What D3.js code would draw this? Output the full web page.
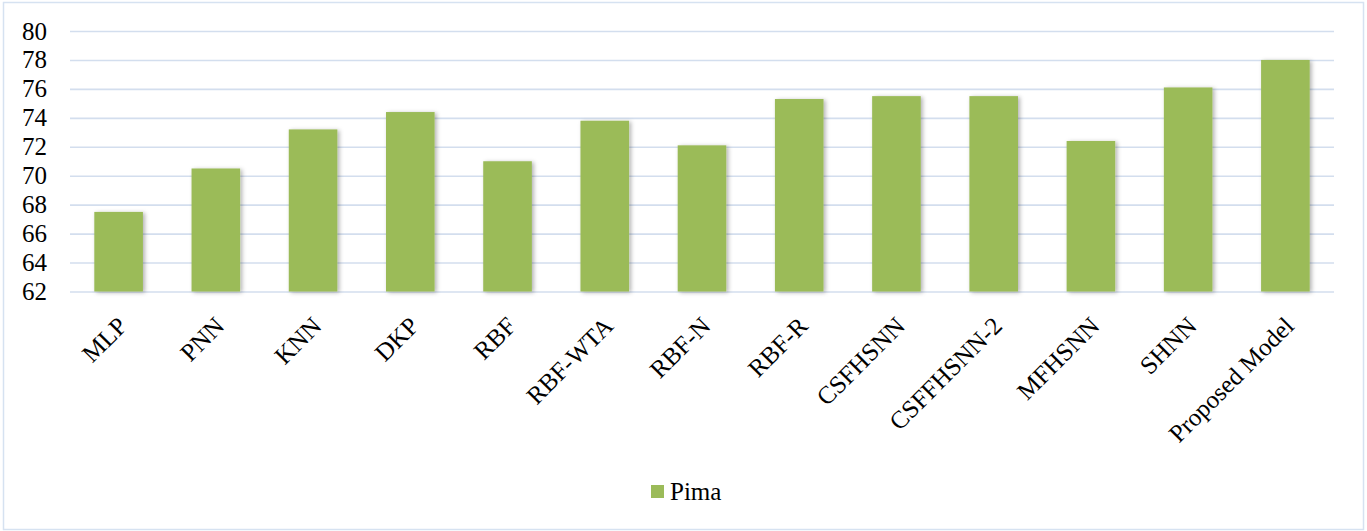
<!DOCTYPE html>
<html>
<head>
<meta charset="utf-8">
<script src="https://cdn.jsdelivr.net/npm/d3@7"></script>
<style>
  html, body { margin: 0; padding: 0; background: #fff; }
  svg { display: block; }
</style>
</head>
<body>
<svg id="chart" width="1367" height="531"></svg>
<script>
// Accuracy (%) on the Pima dataset per method
const categories = ["MLP", "PNN", "KNN", "DKP", "RBF", "RBF-WTA", "RBF-N", "RBF-R",
  "CSFHSNN", "CSFFHSNN-2", "MFHSNN", "SHNN", "Proposed Model"];
const pima = [67.5, 70.5, 73.2, 74.4, 71.0, 73.8, 72.1, 75.3, 75.5, 75.5, 72.4, 76.1, 78.0];
const yTicks = [62, 64, 66, 68, 70, 72, 74, 76, 78, 80];
const seriesName = "Pima";

const plotLeft = 70, plotRight = 1334, plotTop = 31, plotBottom = 291.5;
const barColor = "#9bbb59";
const gridColor = "#d3deee";
const fontSize = 25;
const serif = '"Liberation Serif", "Times New Roman", serif';

const svg = d3.select("#chart");

const defs = svg.append("defs");
const f = defs.append("filter").attr("id", "barShadow")
  .attr("x", "-20%").attr("y", "-5%").attr("width", "140%").attr("height", "115%");
f.append("feDropShadow").attr("dx", 2).attr("dy", 1).attr("stdDeviation", 2)
  .attr("flood-color", "#000").attr("flood-opacity", 0.3);

// chart area border
svg.append("rect")
  .attr("x", 3.5).attr("y", 2.5).attr("width", 1360).attr("height", 527)
  .attr("fill", "#fff").attr("stroke", "#d6e2f1").attr("stroke-width", 1.5);

const x = d3.scaleBand().domain(categories).range([plotLeft, plotRight])
  .paddingInner(0.5).paddingOuter(0.25);
const y = d3.scaleLinear().domain([62, 80]).range([plotBottom, plotTop]);

// horizontal gridlines
const yAxis = d3.axisLeft(y).tickValues(yTicks).tickSize(-(plotRight - plotLeft)).tickPadding(23);
const gy = svg.append("g").attr("transform", `translate(${plotLeft},0)`).call(yAxis);
gy.select(".domain").remove();
gy.selectAll(".tick line").attr("stroke", gridColor).attr("stroke-width", 1.6);
gy.selectAll(".tick text")
  .style("font-family", serif)
  .style("font-size", fontSize + "px").attr("fill", "#000");

// bars
svg.append("g").selectAll("rect").data(categories).join("rect")
  .attr("x", d => x(d))
  .attr("width", x.bandwidth())
  .attr("y", (d, i) => y(pima[i]))
  .attr("height", (d, i) => y(62) - y(pima[i]))
  .attr("fill", barColor)
  .attr("filter", "url(#barShadow)");

// category labels, rotated
const xAxis = d3.axisBottom(x).tickSize(0).tickPadding(0);
const gx = svg.append("g").attr("transform", `translate(0,${plotBottom})`).call(xAxis);
gx.select(".domain").remove();
gx.selectAll(".tick text")
  .style("font-family", serif)
  .style("font-size", fontSize + "px").attr("fill", "#000")
  .attr("text-anchor", "end")
  .attr("dy", null)
  .attr("y", 0)
  .attr("transform", "translate(10,36) rotate(-45)");

// legend
const lg = svg.append("g");
lg.append("rect").attr("x", 651).attr("y", 485).attr("width", 13).attr("height", 13).attr("fill", barColor);
lg.append("text").attr("x", 670).attr("y", 500)
  .style("font-family", serif)
  .style("font-size", fontSize + "px").attr("fill", "#000").text(seriesName);
</script>
</body>
</html>
